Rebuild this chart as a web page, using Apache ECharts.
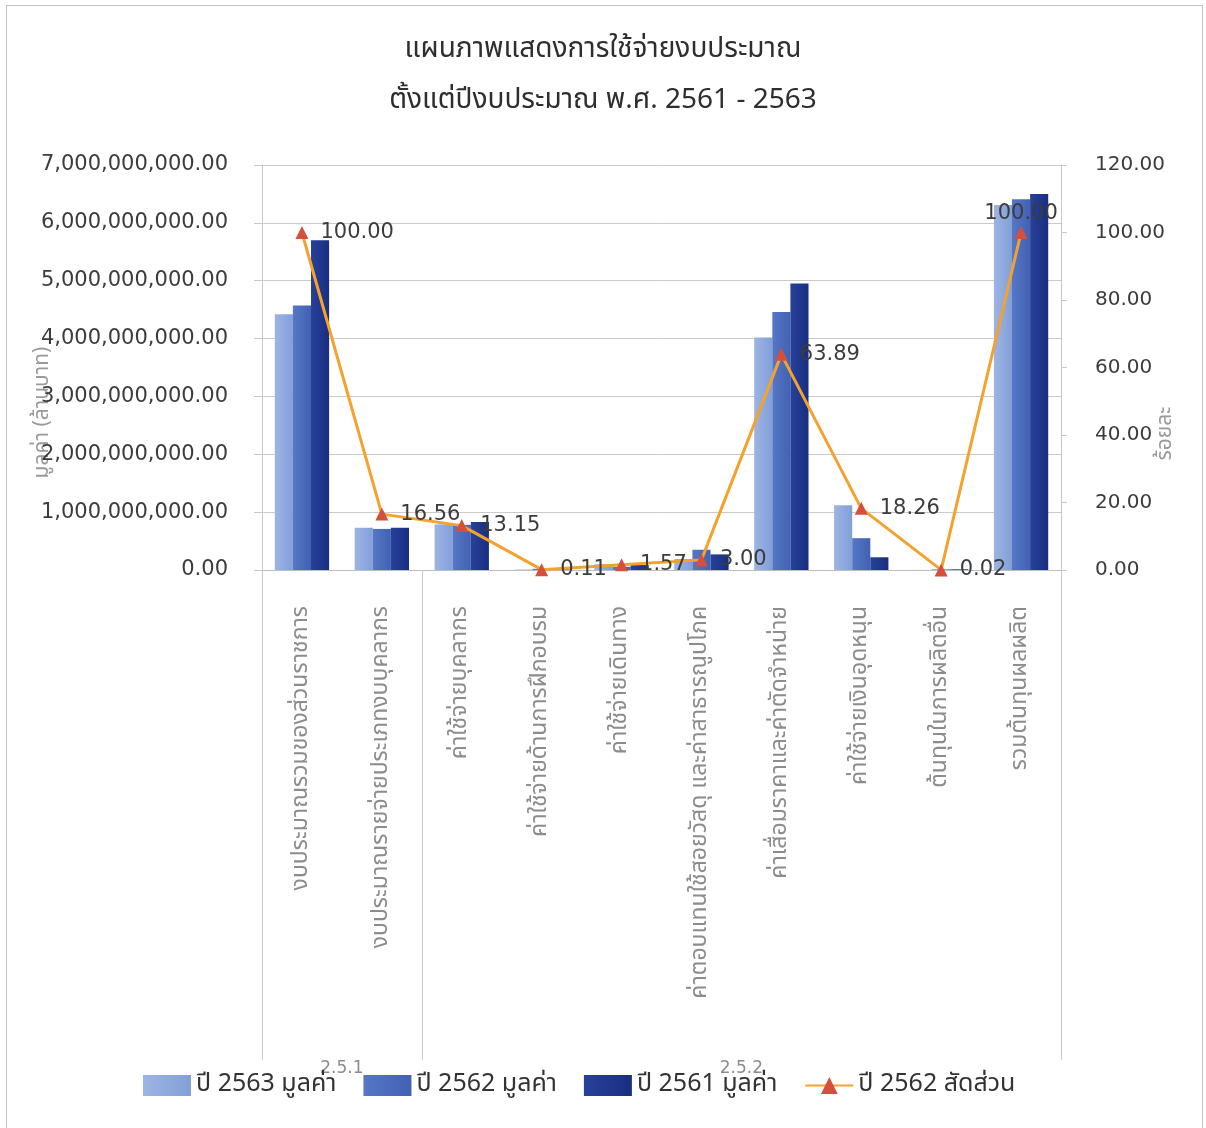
<!DOCTYPE html>
<html>
<head>
<meta charset="utf-8">
<script src="https://cdn.jsdelivr.net/npm/echarts@6/dist/echarts.min.js"></script>
<style>
  html, body { margin: 0; padding: 0; background: #ffffff; }
  #frame { position: absolute; left: 6px; top: 5px; width: 1197px; height: 1130px; border: 1px solid #c4c4c4; box-sizing: border-box; }
  #chart { position: absolute; left: 0; top: 0; width: 1206px; height: 1128px; }
</style>
</head>
<body>
<div id="frame"></div>
<div id="chart"></div>
<script>
// Budget categories (ข้อ 2.5.1 = first two, 2.5.2 = the rest)
const categories = [
  'งบประมาณรวมของส่วนราชการ',
  'งบประมาณรายจ่ายประเภทงบบุคลากร',
  'ค่าใช้จ่ายบุคลากร',
  'ค่าใช้จ่ายด้านการฝึกอบรม',
  'ค่าใช้จ่ายเดินทาง',
  'ค่าตอบแทนใช้สอยวัสดุ และค่าสาธารณูปโภค',
  'ค่าเสื่อมราคาและค่าตัดจำหน่าย',
  'ค่าใช้จ่ายเงินอุดหนุน',
  'ต้นทุนในการผลิตอื่น',
  'รวมต้นทุนผลผลิต'
];
const groupLabels = ['2.5.1', '2.5.2'];
const groupBounds = [0, 2, 10];      // category index where each group starts / ends
const groupCenters = [1, 6];

// Amounts in baht
const value2563 = [4420000000, 730000000, 790000000, 7000000, 99000000, 190000000, 4020000000, 1120000000, 1300000, 6310000000];
const value2562 = [4570000000, 710000000, 780000000, 20000000, 55000000, 350000000, 4460000000, 550000000, 10000000, 6410000000];
const value2561 = [5700000000, 730000000, 830000000, 12000000, 85000000, 270000000, 4950000000, 220000000, 12000000, 6500000000];
// Share (percent), year 2562
const share2562 = [100.00, 16.56, 13.15, 0.11, 1.57, 3.00, 63.89, 18.26, 0.02, 100.00];

const seriesNames = ['ปี 2563 มูลค่า', 'ปี 2562 มูลค่า', 'ปี 2561 มูลค่า', 'ปี 2562 สัดส่วน'];

const FONT = 'Tahoma, "Noto Sans Thai", "Noto Sans", sans-serif';
const NUM_FONT = '"DejaVu Sans", Verdana, sans-serif';

function fmt2(v) {
  const s = Number(v).toFixed(2).split('.');
  s[0] = s[0].replace(/\B(?=(\d{3})+(?!\d))/g, ',');
  return s.join('.');
}

function grad(c1, c2) {
  return new echarts.graphic.LinearGradient(0, 0, 1, 0, [
    { offset: 0, color: c1 }, { offset: 1, color: c2 }
  ]);
}

const chart = echarts.init(document.getElementById('chart'), null, { renderer: 'canvas' });

const barSeries = [value2563, value2562, value2561].map((data, i) => ({
  name: seriesNames[i],
  type: 'bar',
  data: data,
  barGap: '0%',
  barCategoryGap: '32%',
  itemStyle: {
    color: [grad('#9db5e3', '#819fd8'), grad('#5676c6', '#4261b2'), grad('#27419a', '#192e80')][i]
  },
  z: 2
}));

const labelPos = share2562.map((v, i) => i === share2562.length - 1 ? 'top' : 'right');

chart.setOption({
  animation: false,
  textStyle: { fontFamily: FONT },
  title: {
    text: 'แผนภาพแสดงการใช้จ่ายงบประมาณ\nตั้งแต่ปีงบประมาณ พ.ศ. 2561 - 2563',
    left: 'center',
    top: 21,
    textStyle: { fontFamily: FONT, fontSize: 28, fontWeight: 'normal', color: '#2e2e2e', lineHeight: 51 }
  },
  legend: {
    data: seriesNames.map((n, i) => i < 3 ? { name: n, icon: 'rect' } : { name: n }),
    left: 138,
    top: 1068,
    itemWidth: 48,
    itemHeight: 21,
    itemGap: 27,
    textStyle: { fontFamily: FONT, fontSize: 25, color: '#333333' }
  },
  grid: { left: 262, right: 145, top: 165, bottom: 558, containLabel: false },
  xAxis: [
    {
      type: 'category',
      data: categories,
      axisLine: { show: true, lineStyle: { color: '#bdbdbd', width: 1 } },
      axisTick: { show: false },
      axisLabel: {
        rotate: 90,
        interval: 0,
        margin: 36,
        fontFamily: FONT,
        fontSize: 23,
        color: '#8c8c8c'
      }
    },
    {
      // outer level of the category axis: group dividers and group names
      type: 'value',
      position: 'bottom',
      min: 0,
      max: 10,
      gridIndex: 0,
      axisLine: { show: false },
      splitLine: { show: false },
      axisTick: {
        show: true,
        inside: false,
        length: 490,
        customValues: groupBounds,
        lineStyle: { color: '#c8c8c8', width: 1 }
      },
      axisLabel: {
        show: true,
        customValues: groupCenters,
        margin: 490,
        fontFamily: NUM_FONT,
        fontSize: 17,
        color: '#8c8c8c',
        formatter: v => groupLabels[groupCenters.indexOf(v)]
      }
    }
  ],
  yAxis: [
    {
      type: 'value',
      min: 0,
      max: 7000000000,
      interval: 1000000000,
      name: 'มูลค่า (ล้านบาท)',
      nameLocation: 'middle',
      nameRotate: 90,
      nameGap: 208,
      nameMoveOverlap: false,
      nameTextStyle: { fontFamily: FONT, fontSize: 21, color: '#9a9a9a', padding: [0, 90, 0, 0] },
      axisLine: { show: true, lineStyle: { color: '#c8c8c8' } },
      axisTick: { show: true, length: 8, lineStyle: { color: '#c8c8c8' } },
      axisLabel: { fontFamily: NUM_FONT, fontSize: 21, color: '#3c3c3c', margin: 34, formatter: fmt2 },
      splitLine: { show: true, lineStyle: { color: '#cacaca', width: 1 } }
    },
    {
      type: 'value',
      min: 0,
      max: 120,
      interval: 20,
      name: 'ร้อยละ',
      nameLocation: 'middle',
      nameRotate: 90,
      nameGap: 95,
      nameMoveOverlap: false,
      nameTextStyle: { fontFamily: FONT, fontSize: 21, color: '#9a9a9a', padding: [0, 132, 0, 0] },
      axisLine: { show: true, lineStyle: { color: '#c8c8c8' } },
      axisTick: { show: true, length: 6, lineStyle: { color: '#c8c8c8' } },
      axisLabel: { fontFamily: NUM_FONT, fontSize: 20, color: '#3c3c3c', margin: 34, formatter: fmt2 },
      splitLine: { show: false }
    }
  ],
  series: barSeries.concat([{
    name: seriesNames[3],
    type: 'line',
    yAxisIndex: 1,
    data: share2562.map((v, i) => ({
      value: v,
      label: { position: labelPos[i], distance: labelPos[i] === 'top' ? 2 : 12 }
    })),
    symbol: 'triangle',
    symbolSize: 13,
    itemStyle: { color: '#d5503c' },
    lineStyle: { color: '#f5a12e', width: 3 },
    label: {
      show: true,
      fontFamily: NUM_FONT,
      fontSize: 21,
      color: '#3c3c3c',
      formatter: p => fmt2(p.value)
    },
    z: 5
  }])
});
</script>
</body>
</html>
